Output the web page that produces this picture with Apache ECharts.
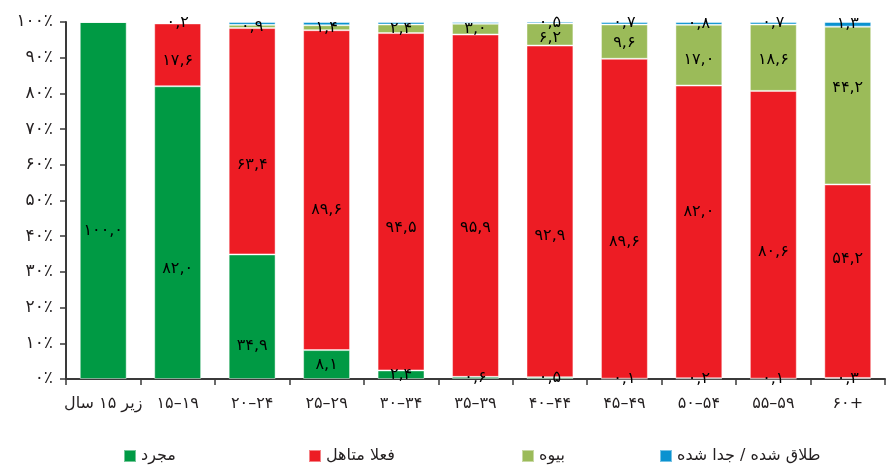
<!DOCTYPE html>
<html><head><meta charset="utf-8">
<script src="https://cdn.jsdelivr.net/npm/echarts@6/dist/echarts.min.js"></script>
<style>html,body{margin:0;padding:0;background:#fff}#c{width:895px;height:465px}</style>
</head><body><div id="c"></div>
<script>
const categories = ['زیر ۱۵ سال','۱۵–۱۹','۲۰–۲۴','۲۵–۲۹','۳۰–۳۴','۳۵–۳۹','۴۰–۴۴','۴۵–۴۹','۵۰–۵۴','۵۵–۵۹','۶۰+'];
const seriesNames = ['مجرد','فعلا متاهل','بیوه','طلاق شده / جدا شده'];
const single   = [100.0, 82.0, 34.9, 8.1, 2.4, 0.6, 0.5, 0.1, 0.2, 0.1, 0.3];
const married  = [0, 17.6, 63.4, 89.6, 94.5, 95.9, 92.9, 89.6, 82.0, 80.6, 54.2];
const widowed  = [0, 0.2, 0.9, 1.4, 2.4, 3.0, 6.2, 9.6, 17.0, 18.6, 44.2];
const divorced = [0, 0.2, 0.8, 0.9, 0.7, 0.5, 0.5, 0.7, 0.8, 0.7, 1.3];
const yTicks = [0,10,20,30,40,50,60,70,80,90,100];

// label display/placement tweaks (not data)
const divorcedLabelShown = [false,false,false,false,false,false,true,true,true,true,true];
const labelShift = [
  [30, 36, 29, 0, 0, 0, 0, 0, 0, 0, 0],
  [0, 6, 24, 20, 26, 22, 24, 23, -20, 17, -22],
  [0, 0, 0, 0, 0, 0, 3, 1, 5, 2, -18],
  [0, 0, 0, 0, 0, 0, 0, 0, 0, 0, 0]
];

const FONT = 'DejaVu Sans';
const fa = s => String(s).replace(/[0-9]/g, d => '۰۱۲۳۴۵۶۷۸۹'[d]);
const fmt = v => fa(v.toFixed(1)).replace('.', ',');
const colors = ['#009a44','#ed1c24','#9bbb59','#0a92d0'];

function mkData(arr, si, shown){
  return arr.map((v,i)=>({value:v, label:{show: v>0 && (shown ? shown[i] : true), offset:[0, labelShift[si][i]]}}));
}
const datas = [mkData(single,0), mkData(married,1), mkData(widowed,2), mkData(divorced,3,divorcedLabelShown)];

const chart = echarts.init(document.getElementById('c'));
const legendLeft = [118, 303, 516, 654];
chart.setOption({
  animation:false,
  color: colors,
  grid:{left:66, right:10, top:22, bottom:86, containLabel:false},
  legend: seriesNames.map((n,i)=>({
    data:[n], left: legendLeft[i], top: 443, icon:'rect', itemWidth:12, itemHeight:12, itemGap:8,
    textStyle:{fontFamily:FONT, fontSize:16, color:'#231f20'}
  })),
  xAxis:{
    type:'category', data:categories,
    axisLine:{lineStyle:{color:'#3a3a3a', width:2}},
    axisTick:{show:true, length:6, lineStyle:{color:'#3a3a3a', width:1.5}},
    axisLabel:{fontFamily:FONT, fontSize:16, color:'#231f20', margin:17, interval:0}
  },
  yAxis:{
    type:'value', min:0, max:100, interval:10,
    axisLine:{show:true, lineStyle:{color:'#3a3a3a', width:2}},
    axisTick:{show:true, length:6, lineStyle:{color:'#3a3a3a', width:1.5}},
    splitLine:{show:false},
    axisLabel:{fontFamily:FONT, fontSize:17, color:'#231f20', margin:13,
      formatter: v => fa(v) + '٪'}
  },
  series: datas.map((d,i)=>({
    name: seriesNames[i], type:'bar', stack:'total', data:d,
    barCategoryGap:'37%',
    itemStyle:{borderColor:'rgba(255,255,255,0.45)', borderWidth:1},
    label:{position:'inside', color:'#000', fontFamily:FONT, fontSize:16,
      formatter: p => fmt(p.value)}
  }))
});
</script></body></html>
